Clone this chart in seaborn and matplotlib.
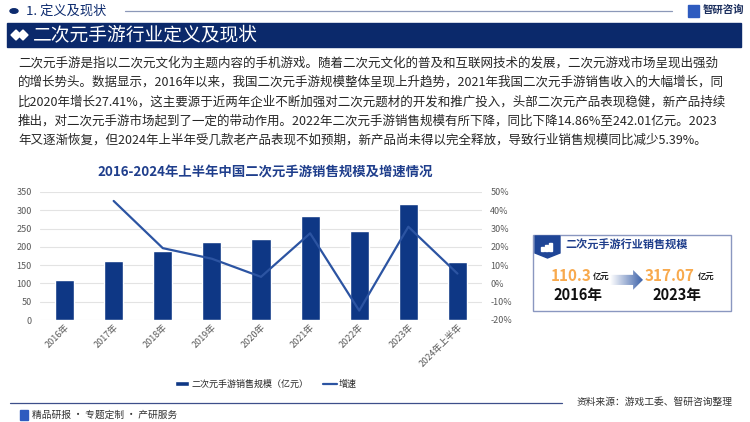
import numpy as np
import pandas as pd
import matplotlib
matplotlib.use("Agg")
import matplotlib.pyplot as plt
import seaborn as sns
from matplotlib.patches import Rectangle, Polygon, Circle
from matplotlib.lines import Line2D

# data
years = ["2016年", "2017年", "2018年", "2019年", "2020年", "2021年", "2022年", "2023年", "2024年上半年"]
sales = [110.3, 160.0, 190.0, 214.5, 222.3, 283.2, 242.01, 317.07, 158.0]
growth = [np.nan, 45.1, 19.3, 13.5, 3.6, 27.41, -14.86, 31.0, 5.39]

paragraph = [
    "二次元手游是指以二次元文化为主题内容的手机游戏。随着二次元文化的普及和互联网技术的发展，二次元游戏市场呈现出强劲",
    "的增长势头。数据显示，2016年以来，我国二次元手游规模整体呈现上升趋势，2021年我国二次元手游销售收入的大幅增长，同",
    "比2020年增长27.41%，这主要源于近两年企业不断加强对二次元题材的开发和推广投入，头部二次元产品表现稳健，新产品持续",
    "推出，对二次元手游市场起到了一定的带动作用。2022年二次元手游销售规模有所下降，同比下降14.86%至242.01亿元。2023",
    "年又逐渐恢复，但2024年上半年受几款老产品表现不如预期，新产品尚未得以完全释放，导致行业销售规模同比减少5.39%。",
]

navy = "#0D2B6E"
bar_color = "#0E3785"
line_color = "#2C54A2"

sns.set_theme(style="white")
plt.rcParams["font.family"] = ["Noto Sans CJK SC", "DejaVu Sans"]
plt.rcParams["axes.unicode_minus"] = False

W, H = 750, 422
fig = plt.figure(figsize=(7.5, 4.22), dpi=100)


def fx(x):
    return x / W


def fy(y):
    return 1 - y / H


def ftext(x, y, s, **kw):
    kw.setdefault("va", "center")
    kw.setdefault("ha", "left")
    fig.text(fx(x), fy(y), s, **kw)


# header
fig.patches.append(Circle((fx(14), fy(11)), 4 / W, transform=fig.transFigure, color=navy))
ftext(26, 11, "1. 定义及现状", fontsize=9.5, color=navy)
fig.lines.append(Line2D([fx(125), fx(672)], [fy(11), fy(11)], transform=fig.transFigure,
                        color="#8C98B8", lw=0.9))
fig.patches.append(Rectangle((fx(688), fy(17)), 11 / W, 12 / H, transform=fig.transFigure,
                             color="#2E5BBF"))
ftext(703, 10, "智研咨询", fontsize=7.5, color="#1C2F5E", fontweight="bold")

# banner
fig.patches.append(Rectangle((fx(7), fy(47)), 734 / W, 24 / H, transform=fig.transFigure,
                             color="#0B296B"))
for cx in (16, 23):
    fig.patches.append(Polygon([(fx(cx - 5), fy(35)), (fx(cx), fy(30)), (fx(cx + 5), fy(35)),
                                (fx(cx), fy(40))], closed=True, transform=fig.transFigure,
                               color="white"))
ftext(33, 35, "二次元手游行业定义及现状", fontsize=13.5, color="white")

# paragraph
for i, line in enumerate(paragraph):
    ftext(18, 63 + i * 19.3, line, fontsize=9, color="#262626")

ftext(265, 172, "2016-2024年上半年中国二次元手游销售规模及增速情况", fontsize=9.6,
      color="#1F3E8C", fontweight="bold", ha="center")

# main chart
df = pd.DataFrame({"year": years, "sales": sales, "growth": growth})
ax = fig.add_axes([fx(40), fy(320), 442 / W, 128 / H])
sns.barplot(data=df, x="year", y="sales", color=bar_color, width=0.39, ax=ax,
            saturation=1, zorder=3, label="二次元手游销售规模（亿元）")
ax.set_ylim(0, 350)
ax.set_yticks(range(0, 351, 50))
ax.set_xlim(-0.5, len(years) - 0.5)
ax.grid(axis="y", color="#E3E3E3", lw=0.8, zorder=0)
ax.set_xlabel("")
ax.set_ylabel("")
for s in ax.spines.values():
    s.set_visible(False)
ax.tick_params(axis="y", labelsize=6.5, colors="#595959", length=0, pad=6)
ax.tick_params(axis="x", labelsize=6.5, colors="#595959", length=0, pad=2)
plt.setp(ax.get_xticklabels(), rotation=45, ha="right", rotation_mode="anchor")

ax2 = ax.twinx()
sns.lineplot(x=np.arange(len(years)), y=df["growth"], color=line_color, lw=1.6, ax=ax2,
             label="增速")
ax2.set_ylim(-20, 50)
ax2.set_yticks(range(-20, 51, 10))
ax2.set_yticklabels([f"{v}%" for v in range(-20, 51, 10)])
ax2.set_ylabel("")
for s in ax2.spines.values():
    s.set_visible(False)
ax2.tick_params(axis="y", labelsize=6.5, colors="#595959", length=0, pad=6)
ax2.get_legend().remove()

h1, l1 = ax.get_legend_handles_labels()
h2, l2 = ax2.get_legend_handles_labels()
fig.legend(h1 + h2, l1 + l2, loc="center", bbox_to_anchor=(fx(266), fy(384)), ncol=2,
           frameon=False, fontsize=6.5, handlelength=1.6, handleheight=0.5,
           columnspacing=1.6, handletextpad=0.2)
if ax.get_legend():
    ax.get_legend().remove()

# right info box
fig.patches.append(Rectangle((fx(533), fy(311)), 198 / W, 76 / H, transform=fig.transFigure,
                             fill=False, edgecolor="#8A97C0", lw=1))
fig.patches.append(Polygon([(fx(535), fy(236)), (fx(560), fy(236)), (fx(560), fy(253)),
                            (fx(547.5), fy(258)), (fx(535), fy(253))], closed=True,
                           transform=fig.transFigure, color="#1F4596"))
for k, hgt in enumerate((4, 6, 8)):
    fig.patches.append(Rectangle((fx(541 + k * 4), fy(251)), 2.5 / W, hgt / H,
                                 transform=fig.transFigure, color="white"))
ftext(565, 245, "二次元手游行业销售规模", fontsize=8, color="#1F3E8C", fontweight="bold")
orange = "#F8AA4E"
ftext(551, 276, "110.3", fontsize=11, color=orange, fontweight="bold")
ftext(593, 277, "亿元", fontsize=6, color="#222222", fontweight="bold")
ftext(553, 295, "2016年", fontsize=10.5, color="#111111", fontweight="bold")
ftext(645, 276, "317.07", fontsize=11, color=orange, fontweight="bold")
ftext(698, 277, "亿元", fontsize=6, color="#222222", fontweight="bold")
ftext(652, 295, "2023年", fontsize=10.5, color="#111111", fontweight="bold")

# gradient arrow
aax = fig.add_axes([fx(610), fy(292), 33 / W, 22 / H])
aax.set_xlim(0, 1)
aax.set_ylim(0, 1)
aax.axis("off")
grad = np.linspace(0, 1, 64).reshape(1, -1)
cmap = matplotlib.colors.LinearSegmentedColormap.from_list("g", ["#FFFFFF", "#3E63AA"])
im = aax.imshow(grad, extent=(0, 1, 0, 1), aspect="auto", cmap=cmap)
arrow = Polygon([(0, 0.32), (0.7, 0.32), (0.7, 0.1), (1, 0.55), (0.7, 1.0), (0.7, 0.78),
                 (0, 0.78)], closed=True, transform=aax.transData, facecolor="none",
                edgecolor="none")
aax.add_patch(arrow)
im.set_clip_path(arrow)

# footer
fig.lines.append(Line2D([fx(10), fx(562)], [fy(403), fy(403)], transform=fig.transFigure,
                        color="#3D4F8A", lw=0.9))
ftext(577, 402, "资料来源：游戏工委、智研咨询整理", fontsize=7, color="#333333")
fig.patches.append(Rectangle((fx(20), fy(420)), 8 / W, 10 / H, transform=fig.transFigure,
                             color="#2E5BBF"))
ftext(32, 415, "精品研报 · 专题定制 · 产研服务", fontsize=7, color="#333333")

fig.savefig("out.png", dpi=100)
